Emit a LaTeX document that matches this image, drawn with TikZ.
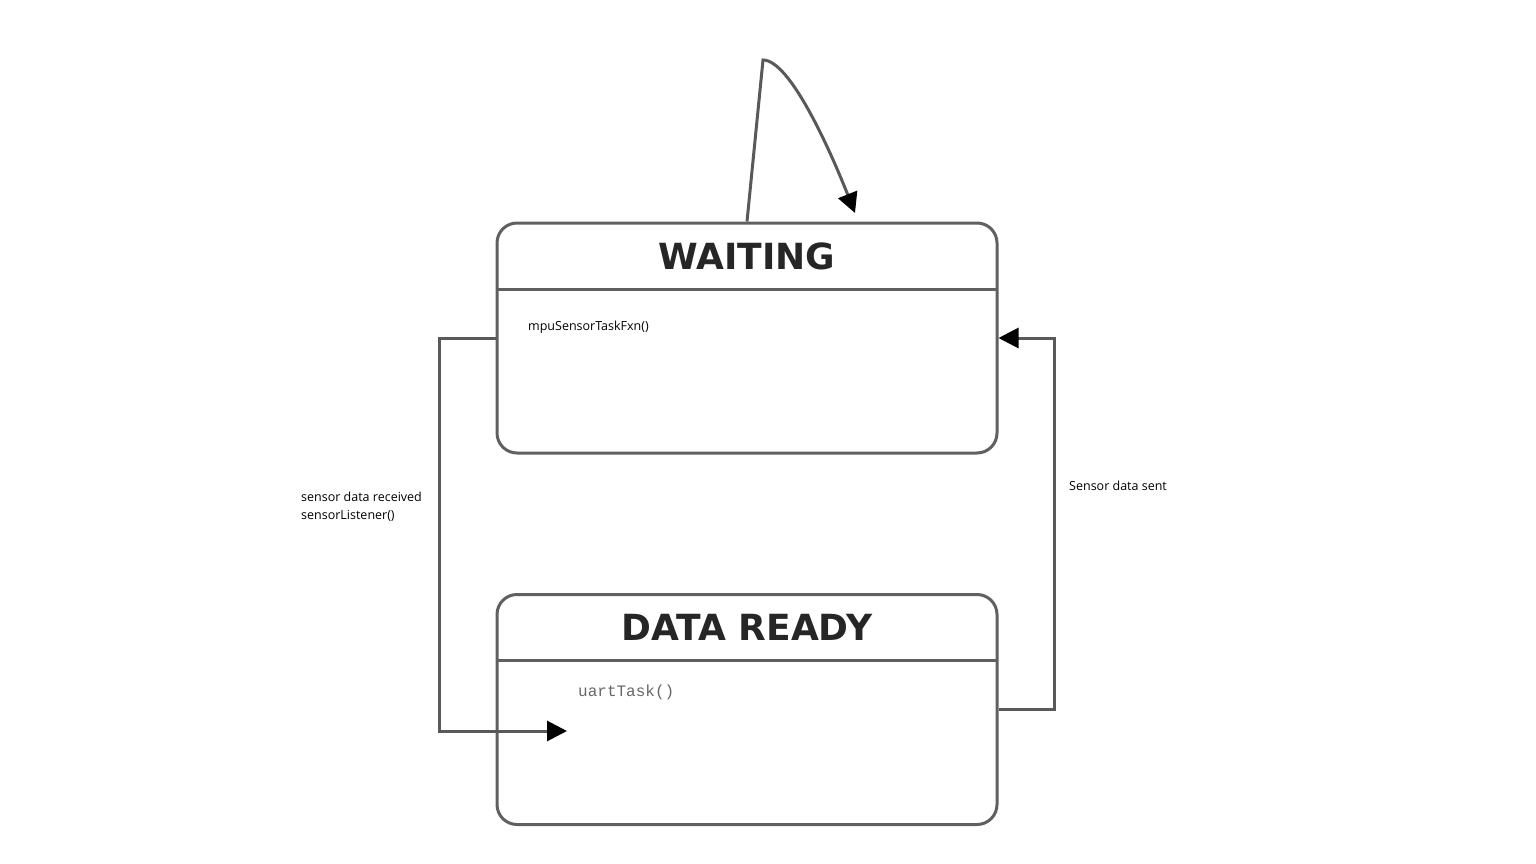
\documentclass[tikz,border=0pt]{standalone}
\usepackage{fontspec}
\setmainfont{Open Sans}
\newfontfamily\titlefont{DejaVu Sans}
\newfontfamily\codefont{Liberation Mono}
\usetikzlibrary{arrows.meta}
\tikzset{
  statebox/.style={draw=gray!75!black,line width=3pt,rounded corners=20pt,
    minimum width=500pt,minimum height=230pt,inner sep=0pt},
  divider/.style={draw=gray!75!black,line width=3pt},
  statetitle/.style={font=\titlefont\bfseries\fontsize{36}{40}\selectfont,text=black!85},
  conn/.style={draw=gray!70!black,line width=3pt,
    -{Triangle[length=20pt,width=20pt,color=black]}},
  lbl/.style={font=\fontsize{12.5}{18}\selectfont,inner sep=0pt,align=left},
}
\begin{document}
\begin{tikzpicture}[x=1pt,y=-1pt]
  \useasboundingbox (0,0) rectangle (1536,864);
  % states
  \node[statebox] (waiting) at (747,338) {};
  \node[statebox] (ready) at (747,709.5) {};
  \draw[divider] (497,289) -- (997,289);
  \draw[divider] (497,660) -- (997,660);
  \node[statetitle] (waitingtitle) at (747,256) {WAITING};
  \node[statetitle] (readytitle) at (747,627) {DATA READY};
  \node[lbl,anchor=base west] (waitingfxn) at (528,330) {mpuSensorTaskFxn()};
  \node[lbl,anchor=base west,font=\codefont\fontsize{16}{18}\selectfont,text=gray!80!black]
    (readyfxn) at (578,696) {uartTask()};
  % free ends
  \coordinate (loopend) at (855,213);
  \coordinate (readyin) at (567,731);
  % transitions
  \draw[conn] (waiting.north) -- (763,60) .. controls (790,60) and (830,150) .. (loopend);
  \draw[conn] (waiting.west) -- (439,338) -- (439,731) -- (readyin);
  \draw[conn] (ready.east) -- (1054,709.5) -- (1054,338) -- (waiting.east);
  \node[lbl,anchor=north west] (receivedlbl) at (301,492) {sensor data received\\sensorListener()};
  \node[lbl,anchor=base west] (sentlbl) at (1069,490) {Sensor data sent};
\end{tikzpicture}
\end{document}
